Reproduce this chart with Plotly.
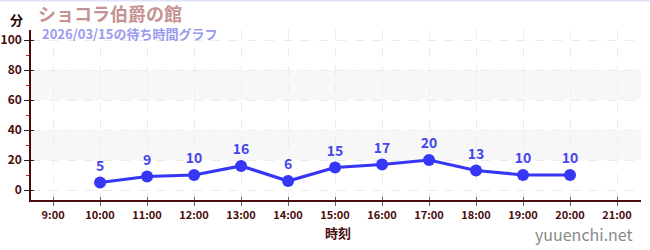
import plotly.graph_objects as go

# Waiting times (minutes) by hour of day
hours = [10, 11, 12, 13, 14, 15, 16, 17, 18, 19, 20]
wait_minutes = [5, 9, 10, 16, 6, 15, 17, 20, 13, 10, 10]

tick_hours = [9, 10, 11, 12, 13, 14, 15, 16, 17, 18, 19, 20, 21]
tick_labels = [f"{h}:00" for h in tick_hours]
y_ticks = [0, 20, 40, 60, 80, 100]

title_text = "ショコラ伯爵の館"
subtitle_text = "2026/03/15の待ち時間グラフ"
y_unit = "分"
x_title = "時刻"
site = "yuuenchi.net"

FONT = "Noto Sans CJK JP"
AXIS = "#4a0d0d"
BLUE = "#3636f6"

# plot area geometry in pixels
W, H = 650, 250
L, R, T, B = 31, 9, 30, 50
pw, ph = W - L - R, H - T - B


def px(xp):
    return (xp - L) / pw


def py(yp):
    return (H - B - yp) / ph


fig = go.Figure()

fig.add_trace(go.Scatter(
    x=hours, y=wait_minutes,
    mode="lines+markers+text",
    line=dict(color=BLUE, width=3.2),
    marker=dict(color=BLUE, size=12),
    text=[str(v) for v in wait_minutes],
    textposition="top center",
    textfont=dict(family=FONT, size=14, color="#4646ee", weight="bold"),
    cliponaxis=False,
    hoverinfo="skip",
    showlegend=False,
))

# invisible trace so the overlaid axes are drawn
fig.add_trace(go.Scatter(x=[hours[0]], y=[wait_minutes[0]], xaxis="x2", yaxis="y2",
                         mode="markers", marker=dict(opacity=0), showlegend=False,
                         hoverinfo="skip"))

xr = [8.53, 21.51]
yr = [-6.67, 106.67]

fig.update_layout(
    width=W, height=H,
    margin=dict(l=L, r=R, t=T, b=B, autoexpand=False),
    paper_bgcolor="white",
    plot_bgcolor="white",
    font=dict(family=FONT, color=AXIS),
    xaxis=dict(
        range=xr, tickmode="array", tickvals=tick_hours, ticktext=tick_labels,
        showgrid=True, gridcolor="#ebebeb", griddash="dash", gridwidth=1,
        zeroline=False, showline=True, linecolor=AXIS, linewidth=1.5,
        ticks="outside", ticklen=4, tickcolor="#666666", tickwidth=1,
        tickfont=dict(family=FONT, size=11, color=AXIS, weight="bold"),
        automargin=False, fixedrange=True,
    ),
    yaxis=dict(
        range=yr, tickmode="array", tickvals=y_ticks,
        showgrid=True, gridcolor="#ebebeb", griddash="dash", gridwidth=1,
        zeroline=False, showline=True, linecolor=AXIS, linewidth=1.5,
        ticks="outside", ticklen=5, tickcolor="#222222", tickwidth=1,
        tickfont=dict(family=FONT, size=12, color=AXIS, weight="bold"),
        minor=dict(tickvals=[10, 30, 50, 70, 90], ticks="outside", ticklen=3,
                   tickcolor="#e01010", showgrid=False),
        automargin=False, fixedrange=True,
    ),
    xaxis2=dict(
        range=xr, overlaying="x", tickmode="array", tickvals=tick_hours,
        showticklabels=False, showgrid=False, zeroline=False, showline=False,
        ticks="inside", ticklen=3, tickcolor="#666666", tickwidth=1,
        automargin=False,
    ),
    yaxis2=dict(
        range=yr, overlaying="y", tickmode="array", tickvals=y_ticks,
        showticklabels=False, showgrid=False, zeroline=False, showline=False,
        ticks="inside", ticklen=3, tickcolor="#222222", tickwidth=1,
        automargin=False,
    ),
    shapes=[
        dict(type="rect", xref="paper", yref="y", x0=0, x1=1, y0=20, y1=40,
             fillcolor="#f7f7f7", line=dict(width=0), layer="below"),
        dict(type="rect", xref="paper", yref="y", x0=0, x1=1, y0=60, y1=80,
             fillcolor="#f7f7f7", line=dict(width=0), layer="below"),
        dict(type="line", xref="paper", yref="paper", x0=px(0), x1=px(W),
             y0=py(0.5), y1=py(0.5), line=dict(color="#e2e2fb", width=2)),
    ],
    annotations=[
        dict(text=title_text, xref="paper", yref="paper", x=px(36), y=py(13),
             xanchor="left", yanchor="middle", showarrow=False,
             font=dict(family=FONT, size=18, color="#c59393", weight="bold")),
        dict(text=subtitle_text, xref="paper", yref="paper", x=px(40), y=py(33),
             xanchor="left", yanchor="middle", showarrow=False,
             font=dict(family=FONT, size=13, color="#9a9af0", weight="bold")),
        dict(text=y_unit, xref="paper", yref="paper", x=px(16), y=py(19),
             xanchor="center", yanchor="middle", showarrow=False,
             font=dict(family=FONT, size=13, color="#2a0808", weight="bold")),
        dict(text=x_title, xref="paper", yref="paper", x=px(338), y=py(232),
             xanchor="center", yanchor="middle", showarrow=False,
             font=dict(family=FONT, size=13, color=AXIS, weight="bold")),
        dict(text=site, xref="paper", yref="paper", x=px(635), y=py(234),
             xanchor="right", yanchor="middle", showarrow=False,
             font=dict(family=FONT, size=16, color="#8a8a8a")),
    ],
)

fig.write_html("out.html", config=dict(displayModeBar=False))
